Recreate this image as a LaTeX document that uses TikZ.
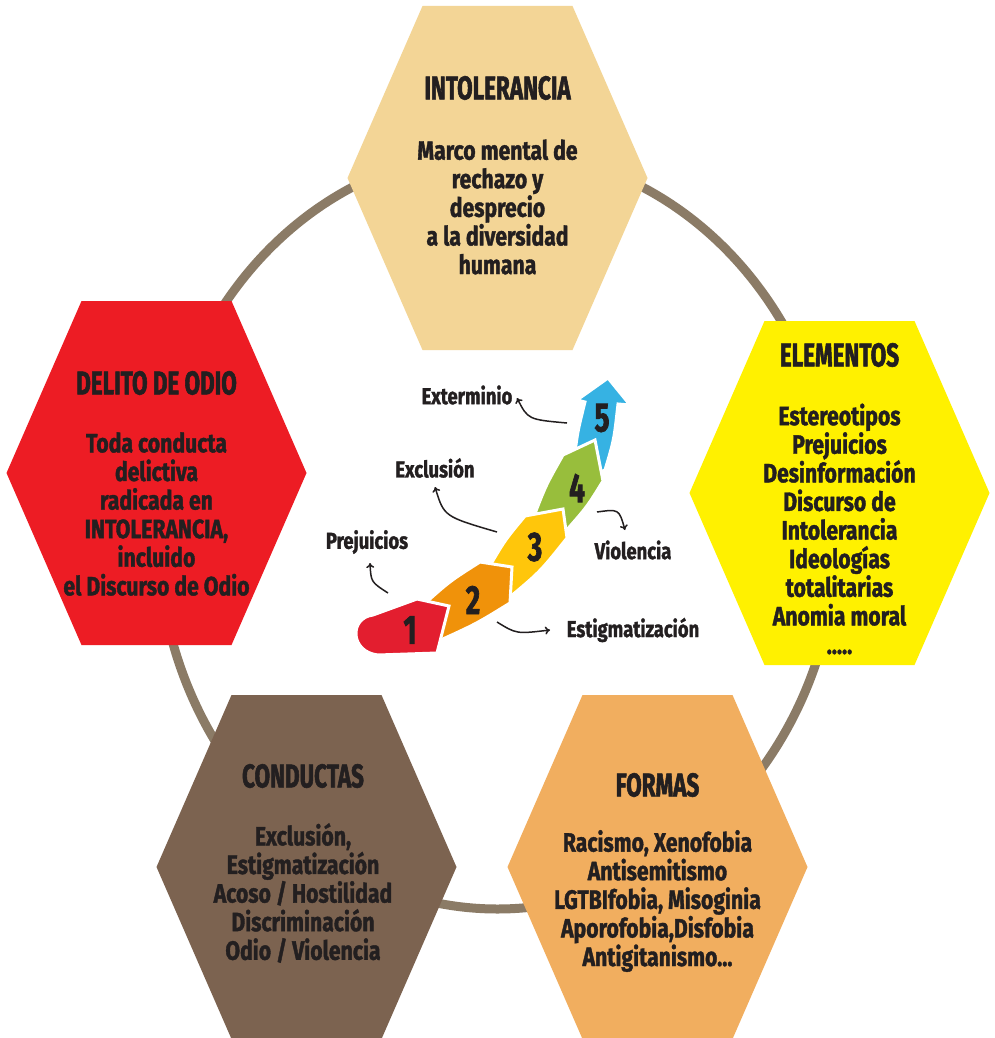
\documentclass[tikz,border=0pt]{standalone}
\usepackage{fontspec}
\newfontfamily\hxT[FakeStretch=0.68,FakeBold=1.6]{Fira Sans}
\newfontfamily\hxB[FakeStretch=0.8,FakeBold=1.4]{Fira Sans}
\usetikzlibrary{arrows.meta}
\definecolor{ringc}{HTML}{8B7B66}
\definecolor{hxtan}{HTML}{F3D596}
\definecolor{hxred}{HTML}{ED1C24}
\definecolor{hxyel}{HTML}{FFF100}
\definecolor{hxbrn}{HTML}{7C6350}
\definecolor{hxorg}{HTML}{F1AE5F}
\definecolor{ink}{HTML}{231F20}
\definecolor{aone}{HTML}{E31E2F}
\definecolor{atwo}{HTML}{F0920A}
\definecolor{athree}{HTML}{FFC60B}
\definecolor{afour}{HTML}{98BE3C}
\definecolor{afive}{HTML}{36B2E3}
\tikzset{
  pics/hexa/.style={code={\fill[#1] (-150,0) -- (-75,-172) -- (75,-172) -- (150,0) -- (75,172) -- (-75,172) -- cycle;}},
  htitle/.style={font=\hxT\bfseries\fontsize{33}{36}\selectfont, text=ink, inner sep=0pt},
  hbody/.style={font=\hxB\bfseries\fontsize{26.5}{28.6}\selectfont, text=ink, align=center, inner sep=0pt},
  lbl/.style={font=\hxB\bfseries\fontsize{23}{25}\selectfont, text=ink, inner sep=0pt},
  digit/.style={font=\hxT\bfseries\fontsize{41}{42}\selectfont, text=ink, inner sep=0pt},
  seg/.style={draw=white, line width=3pt, line join=miter},
  larrow/.style={draw=ink, line width=1.5pt, -{To[length=5pt,width=8pt]}}
}
\begin{document}
\begin{tikzpicture}[x=1pt,y=-1pt]
\useasboundingbox (0,0) rectangle (994,1038);
\fill[white] (0,0) rectangle (994,1038);
% ring
\draw[ringc, line width=9pt] (497.5,530) ellipse [x radius=340, y radius=379];
% hexagons
\pic at (497.5,178) {hexa=hxtan};
\pic at (156.5,473) {hexa=hxred};
\pic at (839.5,493) {hexa=hxyel};
\pic at (306.5,867) {hexa=hxbrn};
\pic at (657.5,867) {hexa=hxorg};
% hexagon texts
\node[htitle] (t1) at (497.5,88) {INTOLERANCIA};
\node[hbody] (b1) at (497.5,207) {Marco mental de\\rechazo y\\desprecio\\a la diversidad\\humana};
\node[htitle] (t2) at (156.5,383) {DELITO DE ODIO};
\node[hbody] (b2) at (156.5,514) {Toda conducta\\delictiva\\radicada en\\INTOLERANCIA,\\incluido\\el Discurso de Odio};
\node[htitle] (t3) at (839.5,355) {ELEMENTOS};
\node[hbody] (b3) at (839.5,529) {Estereotipos\\Prejuicios\\Desinformación\\Discurso de\\Intolerancia\\Ideologías\\totalitarias\\Anomia moral\\.....};
\node[htitle] (t4) at (303,776) {CONDUCTAS};
\node[hbody] (b4) at (303,893) {Exclusión,\\Estigmatización\\Acoso / Hostilidad\\Discriminación\\Odio / Violencia};
\node[htitle] (t5) at (657.5,785) {FORMAS};
\node[hbody] (b5) at (657.5,901) {Racismo, Xenofobia\\Antisemitismo\\LGTBIfobia, Misoginia\\Aporofobia,Disfobia\\Antigitanismo...};
% central staged arrow (drawn back to front)
\filldraw[seg, fill=afive] (575,452) .. controls (578,430) .. (585,402) -- (577,400) -- (608,378) -- (630,405) -- (618,404) .. controls (614,440) .. (605,470) -- (598,473) -- cycle;
\filldraw[seg, fill=afour] (534,516) .. controls (546,485) .. (563,455) -- (595,440) -- (603,481) .. controls (587,507) .. (564,533) -- cycle;
\filldraw[seg, fill=athree] (488,569) .. controls (505,540) .. (525,516) -- (563,509) -- (567,538) .. controls (540,572) .. (505,601) -- cycle;
\filldraw[seg, fill=atwo] (422,606) .. controls (450,581) .. (480,562) -- (512,567) -- (510,603) .. controls (476,624) .. (434,643) -- cycle;
\filldraw[seg, fill=aone] (373,615) -- (417,599) -- (449,606) -- (437,653) -- (378,655) .. controls (350,652) and (349,618) .. (373,615) -- cycle;
\node[digit] (d1) at (410,630) {1};
\node[digit] (d2) at (473,600) {2};
\node[digit] (d3) at (535,547) {3};
\node[digit] (d4) at (577,488) {4};
\node[digit] (d5) at (602,418) {5};
% labels
\node[lbl] (lext) at (467,395) {Exterminio};
\node[lbl] (lexc) at (435,468) {Exclusión};
\node[lbl] (lpre) at (367,542) {Prejuicios};
\node[lbl] (lvio) at (633,550) {Violencia};
\node[lbl] (lest) at (633,630) {Estigmatización};
\coordinate (sext) at (567,423); \coordinate (eext) at (517,398);
\coordinate (sexc) at (497,532); \coordinate (eexc) at (435,487);
\coordinate (spre) at (388,593); \coordinate (epre) at (370,563);
\coordinate (svio) at (597,512); \coordinate (evio) at (625,530);
\coordinate (sest) at (497,622); \coordinate (eest) at (550,630);
\draw[larrow] (sext) .. controls (528,419.5) .. (eext);
\draw[larrow] (sexc) .. controls (444,516.5) .. (eexc);
\draw[larrow] (spre) .. controls (371,582) .. (epre);
\draw[larrow] (svio) .. controls (619,509) .. (evio);
\draw[larrow] (sest) .. controls (516.5,634) .. (eest);
\end{tikzpicture}
\end{document}
